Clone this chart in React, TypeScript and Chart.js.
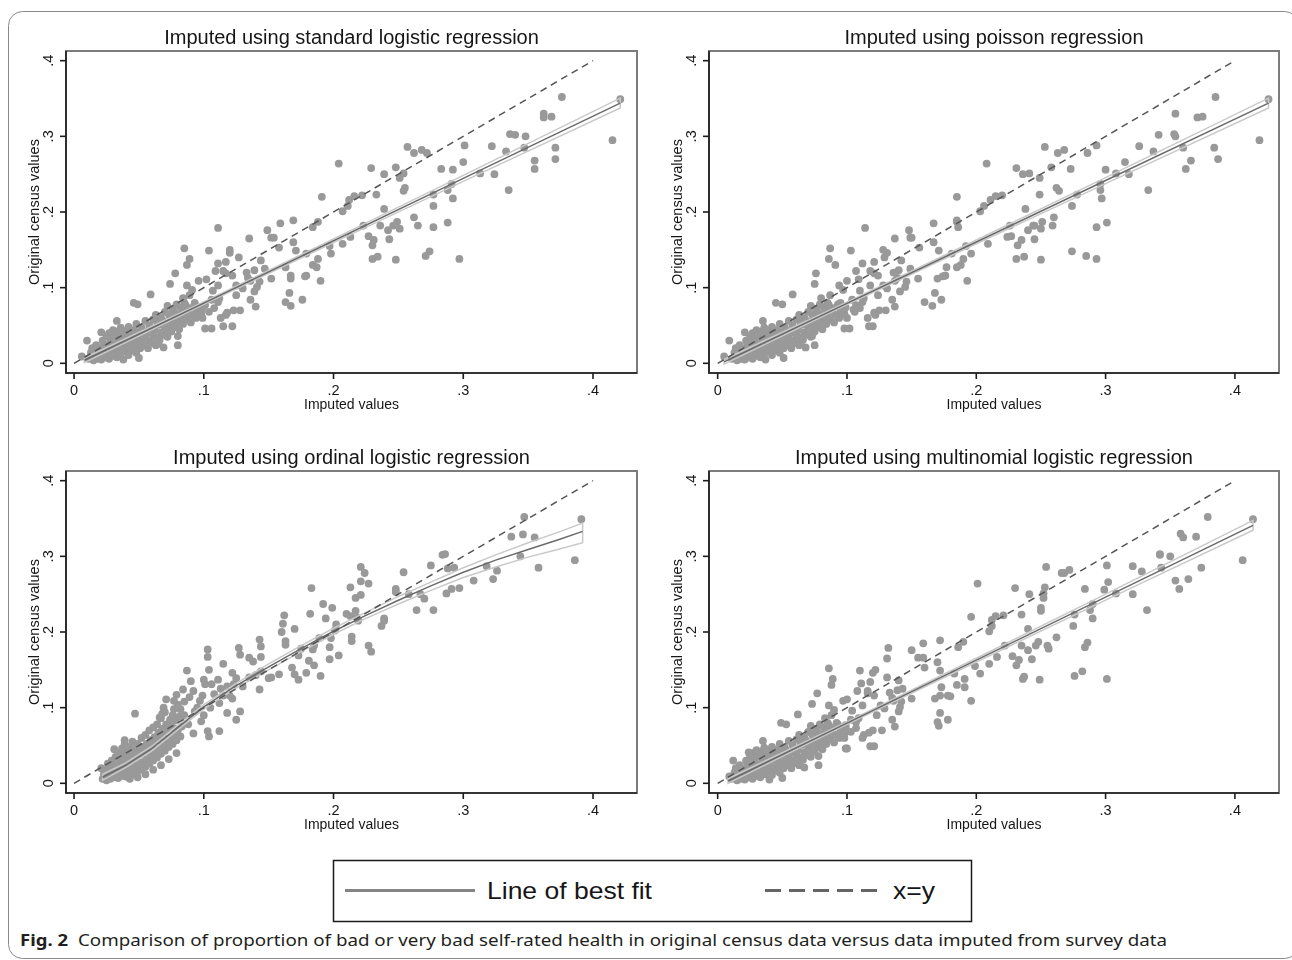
import React, { useEffect, useRef } from "react";
import { Chart, registerables } from "chart.js";

Chart.register(...registerables);

// ---------------- text ----------------
const PANEL_TITLES = [
  "Imputed using standard logistic regression",
  "Imputed using poisson regression",
  "Imputed using ordinal logistic regression",
  "Imputed using multinomial logistic regression",
];
const X_TITLE = "Imputed values";
const Y_TITLE = "Original census values";
const TICK_VALUES = [0, 0.1, 0.2, 0.3, 0.4];
const TICK_LABELS = ["0", ".1", ".2", ".3", ".4"];
const LEGEND_LABELS = ["Line of best fit", "x=y"];
const CAPTION_LABEL = "Fig. 2";
const CAPTION_TEXT =
  "Comparison of proportion of bad or very bad self-rated health in original census data versus data imputed from survey data";

// ---------------- data ----------------
// census values (y) of the scattered areas, shared by the standard, poisson and multinomial panels
const censusY = [
  0.349, 0.352, 0.295, 0.330, 0.325, 0.326, 0.285, 0.270, 0.268, 0.257,
  0.303, 0.302, 0.300, 0.285, 0.280, 0.287, 0.229, 0.250, 0.251, 0.288,
  0.266, 0.256, 0.237, 0.218, 0.229, 0.186, 0.138, 0.257, 0.223, 0.208,
  0.180, 0.148, 0.142, 0.278, 0.282, 0.278, 0.286, 0.193, 0.182, 0.251,
  0.228, 0.232, 0.245, 0.259, 0.178, 0.187, 0.182, 0.176, 0.164, 0.250,
  0.204, 0.182, 0.137, 0.141, 0.138, 0.163, 0.156, 0.258, 0.168, 0.223,
  0.182, 0.222, 0.221, 0.216, 0.167, 0.158, 0.208, 0.201, 0.264, 0.145,
  0.220, 0.155, 0.109, 0.187, 0.138, 0.127, 0.130, 0.180, 0.116, 0.115,
  0.145, 0.084, 0.149, 0.189, 0.160, 0.093, 0.076, 0.081, 0.112, 0.116,
  0.127, 0.185, 0.153, 0.166, 0.176, 0.166, 0.112, 0.125, 0.136, 0.123,
  0.095, 0.075, 0.101, 0.109, 0.084, 0.165, 0.120, 0.099, 0.090, 0.140,
  0.070, 0.116, 0.134, 0.150, 0.146, 0.119, 0.122, 0.179, 0.132, 0.103,
  0.086, 0.081, 0.084, 0.122, 0.096, 0.064, 0.049, 0.049, 0.149, 0.046,
  0.046, 0.111, 0.109, 0.077, 0.071, 0.138, 0.130, 0.152, 0.103, 0.097,
  0.086, 0.119, 0.105, 0.024, 0.036, 0.021, 0.026, 0.091, 0.080, 0.078,
  0.007, 0.005, 0.056, 0.041, 0.030, 0.009,
  0.066, 0.060, 0.068, 0.073, 0.060, 0.067, 0.070, 0.113, 0.108, 0.103, 0.080, 0.090,
];

const stdLogitX = [
  0.421, 0.376, 0.415, 0.362, 0.362, 0.368, 0.371, 0.371, 0.355, 0.355,
  0.336, 0.340, 0.348, 0.347, 0.333, 0.322, 0.335, 0.324, 0.313, 0.301,
  0.300, 0.292, 0.291, 0.292, 0.288, 0.288, 0.297, 0.283, 0.277, 0.277,
  0.277, 0.274, 0.271, 0.272, 0.268, 0.262, 0.257, 0.262, 0.265, 0.254,
  0.254, 0.255, 0.251, 0.248, 0.251, 0.249, 0.246, 0.242, 0.243, 0.239,
  0.239, 0.236, 0.248, 0.234, 0.230, 0.231, 0.230, 0.229, 0.227, 0.233,
  0.223, 0.222, 0.216, 0.212, 0.213, 0.207, 0.211, 0.207, 0.204, 0.198,
  0.191, 0.197, 0.190, 0.188, 0.188, 0.187, 0.184, 0.184, 0.179, 0.178,
  0.179, 0.176, 0.171, 0.169, 0.169, 0.166, 0.167, 0.163, 0.167, 0.167,
  0.163, 0.159, 0.158, 0.152, 0.149, 0.154, 0.152, 0.147, 0.144, 0.139,
  0.139, 0.140, 0.141, 0.136, 0.136, 0.135, 0.133, 0.130, 0.125, 0.127,
  0.123, 0.122, 0.117, 0.120, 0.120, 0.117, 0.115, 0.111, 0.111, 0.111,
  0.112, 0.111, 0.106, 0.109, 0.107, 0.117, 0.115, 0.122, 0.104, 0.106,
  0.101, 0.102, 0.096, 0.101, 0.098, 0.089, 0.087, 0.085, 0.087, 0.091,
  0.084, 0.078, 0.074, 0.080, 0.080, 0.069, 0.065, 0.059, 0.046, 0.049,
  0.050, 0.038, 0.033, 0.021, 0.010, 0.006,
  0.094, 0.099, 0.104, 0.108, 0.113, 0.118, 0.128, 0.134, 0.143, 0.125, 0.093, 0.089,
];

const poissonX = [
  0.426, 0.385, 0.419, 0.354, 0.371, 0.375, 0.384, 0.387, 0.366, 0.362,
  0.353, 0.341, 0.354, 0.360, 0.337, 0.326, 0.333, 0.318, 0.308, 0.293,
  0.315, 0.300, 0.296, 0.297, 0.296, 0.301, 0.293, 0.273, 0.278, 0.274,
  0.293, 0.274, 0.285, 0.286, 0.268, 0.263, 0.253, 0.260, 0.259, 0.241,
  0.264, 0.262, 0.249, 0.258, 0.250, 0.251, 0.245, 0.240, 0.245, 0.236,
  0.238, 0.244, 0.250, 0.237, 0.231, 0.235, 0.232, 0.231, 0.227, 0.249,
  0.226, 0.220, 0.215, 0.211, 0.224, 0.209, 0.206, 0.203, 0.208, 0.196,
  0.185, 0.192, 0.193, 0.185, 0.190, 0.185, 0.188, 0.186, 0.176, 0.174,
  0.181, 0.173, 0.171, 0.185, 0.167, 0.168, 0.166, 0.160, 0.170, 0.176,
  0.177, 0.167, 0.156, 0.149, 0.148, 0.150, 0.155, 0.149, 0.142, 0.140,
  0.141, 0.137, 0.145, 0.137, 0.135, 0.137, 0.136, 0.131, 0.124, 0.129,
  0.125, 0.124, 0.121, 0.128, 0.131, 0.121, 0.118, 0.114, 0.112, 0.118,
  0.113, 0.112, 0.104, 0.107, 0.110, 0.122, 0.117, 0.120, 0.103, 0.098,
  0.102, 0.109, 0.100, 0.107, 0.105, 0.086, 0.091, 0.087, 0.094, 0.097,
  0.080, 0.076, 0.075, 0.075, 0.073, 0.068, 0.064, 0.058, 0.045, 0.050,
  0.051, 0.037, 0.035, 0.021, 0.009, 0.005,
  0.096, 0.100, 0.106, 0.110, 0.116, 0.121, 0.130, 0.139, 0.146, 0.128, 0.095, 0.087,
];

const multinomX = [
  0.414, 0.379, 0.406, 0.358, 0.360, 0.370, 0.374, 0.364, 0.354, 0.357,
  0.342, 0.342, 0.350, 0.343, 0.328, 0.321, 0.332, 0.321, 0.308, 0.301,
  0.302, 0.299, 0.290, 0.290, 0.288, 0.286, 0.301, 0.284, 0.276, 0.275,
  0.284, 0.282, 0.276, 0.268, 0.272, 0.266, 0.254, 0.262, 0.255, 0.252,
  0.250, 0.250, 0.252, 0.253, 0.256, 0.248, 0.246, 0.240, 0.243, 0.241,
  0.240, 0.235, 0.249, 0.237, 0.236, 0.233, 0.231, 0.230, 0.228, 0.235,
  0.222, 0.221, 0.215, 0.212, 0.216, 0.210, 0.212, 0.210, 0.201, 0.203,
  0.196, 0.199, 0.196, 0.190, 0.191, 0.191, 0.185, 0.186, 0.178, 0.180,
  0.183, 0.178, 0.172, 0.172, 0.170, 0.172, 0.171, 0.170, 0.168, 0.172,
  0.173, 0.159, 0.160, 0.155, 0.150, 0.159, 0.150, 0.143, 0.140, 0.139,
  0.140, 0.137, 0.141, 0.136, 0.135, 0.131, 0.133, 0.129, 0.123, 0.131,
  0.120, 0.121, 0.118, 0.122, 0.120, 0.116, 0.116, 0.132, 0.111, 0.112,
  0.109, 0.107, 0.103, 0.108, 0.104, 0.113, 0.118, 0.121, 0.110, 0.099,
  0.100, 0.100, 0.097, 0.099, 0.096, 0.089, 0.088, 0.086, 0.086, 0.090,
  0.083, 0.077, 0.073, 0.078, 0.078, 0.067, 0.063, 0.062, 0.049, 0.053,
  0.050, 0.040, 0.035, 0.024, 0.012, 0.009,
  0.095, 0.098, 0.103, 0.107, 0.112, 0.117, 0.127, 0.135, 0.142, 0.126, 0.092, 0.088,
];

// dense low-value cluster (imputed, census) for the linear-model panels
const lowCluster = [
  [0.011, 0.006], [0.013, 0.014],
  [0.015, 0.004], [0.016, 0.010], [0.014, 0.020],
  [0.018, 0.006], [0.019, 0.015], [0.017, 0.024],
  [0.021, 0.005], [0.022, 0.012], [0.020, 0.019], [0.022, 0.030],
  [0.024, 0.008], [0.025, 0.016], [0.023, 0.025], [0.025, 0.036],
  [0.027, 0.006], [0.028, 0.013], [0.026, 0.021], [0.028, 0.030], [0.027, 0.040],
  [0.030, 0.010], [0.031, 0.018], [0.029, 0.027], [0.031, 0.036], [0.030, 0.044],
  [0.033, 0.008], [0.034, 0.015], [0.032, 0.024], [0.034, 0.033], [0.033, 0.042],
  [0.036, 0.012], [0.037, 0.020], [0.035, 0.029], [0.037, 0.038], [0.036, 0.047],
  [0.039, 0.016], [0.040, 0.025], [0.038, 0.034], [0.040, 0.043],
  [0.042, 0.011], [0.043, 0.020], [0.041, 0.030], [0.043, 0.039], [0.042, 0.048],
  [0.045, 0.017], [0.046, 0.026], [0.044, 0.035], [0.046, 0.044],
  [0.048, 0.014], [0.049, 0.023], [0.047, 0.032], [0.049, 0.041], [0.048, 0.052],
  [0.051, 0.020], [0.052, 0.029], [0.050, 0.038], [0.052, 0.047],
  [0.054, 0.024], [0.055, 0.034], [0.053, 0.043], [0.055, 0.056],
  [0.057, 0.020], [0.058, 0.030], [0.056, 0.040], [0.058, 0.050],
  [0.060, 0.027], [0.061, 0.037], [0.059, 0.046], [0.061, 0.058],
  [0.063, 0.024], [0.064, 0.034], [0.062, 0.044], [0.064, 0.054], [0.063, 0.064],
  [0.066, 0.031], [0.067, 0.041], [0.065, 0.051], [0.067, 0.060],
  [0.069, 0.038], [0.070, 0.048], [0.068, 0.057], [0.070, 0.068],
  [0.072, 0.035], [0.073, 0.045], [0.071, 0.054], [0.073, 0.065], [0.072, 0.076],
  [0.075, 0.042], [0.076, 0.052], [0.074, 0.062], [0.076, 0.072],
  [0.078, 0.048], [0.079, 0.058], [0.077, 0.068], [0.079, 0.078],
  [0.081, 0.045], [0.082, 0.055], [0.080, 0.064], [0.082, 0.074],
  [0.084, 0.052], [0.085, 0.062], [0.083, 0.071], [0.085, 0.080],
  [0.087, 0.058], [0.088, 0.068], [0.086, 0.077],
  [0.090, 0.054], [0.091, 0.064], [0.089, 0.073],
  [0.094, 0.060], [0.095, 0.070], [0.093, 0.078],
  [0.098, 0.066], [0.099, 0.074],
];

// ordinal logistic regression panel (imputed, census)
const ordinalPts = [
  [0.391, 0.349], [0.347, 0.352], [0.337, 0.326], [0.346, 0.329], [0.355, 0.325], [0.344, 0.300], [0.358, 0.285], [0.386, 0.295], [0.318, 0.287], [0.323, 0.270],
  [0.326, 0.281], [0.308, 0.268], [0.284, 0.302], [0.286, 0.303], [0.275, 0.288], [0.288, 0.284], [0.293, 0.285], [0.291, 0.257], [0.297, 0.258], [0.287, 0.251],
  [0.267, 0.250], [0.270, 0.244], [0.264, 0.229], [0.277, 0.229], [0.254, 0.279], [0.258, 0.250], [0.248, 0.257], [0.248, 0.253], [0.239, 0.218], [0.239, 0.215],
  [0.237, 0.208], [0.221, 0.286], [0.224, 0.278], [0.221, 0.267], [0.227, 0.264], [0.213, 0.259], [0.217, 0.245], [0.221, 0.249], [0.217, 0.228], [0.210, 0.224],
  [0.213, 0.221], [0.218, 0.219], [0.219, 0.215], [0.214, 0.194], [0.214, 0.188], [0.227, 0.182], [0.229, 0.174], [0.192, 0.237], [0.199, 0.232], [0.183, 0.258],
  [0.182, 0.224], [0.194, 0.218], [0.202, 0.210], [0.201, 0.202], [0.198, 0.192], [0.197, 0.180], [0.204, 0.169], [0.197, 0.164], [0.190, 0.142], [0.189, 0.192],
  [0.185, 0.182], [0.184, 0.177], [0.185, 0.156], [0.179, 0.146], [0.181, 0.162], [0.175, 0.178], [0.173, 0.169], [0.170, 0.204], [0.173, 0.137], [0.170, 0.144],
  [0.168, 0.153], [0.162, 0.222], [0.161, 0.211], [0.163, 0.188], [0.163, 0.183], [0.160, 0.200], [0.158, 0.144], [0.152, 0.140], [0.150, 0.139], [0.143, 0.190],
  [0.144, 0.181], [0.144, 0.167], [0.143, 0.124], [0.144, 0.148], [0.138, 0.161], [0.135, 0.166], [0.128, 0.170], [0.127, 0.179], [0.125, 0.139], [0.122, 0.146],
  [0.123, 0.131], [0.120, 0.116], [0.122, 0.112], [0.115, 0.158], [0.115, 0.116], [0.128, 0.095], [0.125, 0.084], [0.118, 0.093], [0.112, 0.106], [0.111, 0.137],
  [0.106, 0.131], [0.103, 0.177], [0.103, 0.167], [0.104, 0.150], [0.100, 0.137], [0.101, 0.131], [0.099, 0.116], [0.097, 0.109], [0.098, 0.082], [0.103, 0.069],
  [0.104, 0.062], [0.112, 0.069], [0.092, 0.122], [0.090, 0.135], [0.089, 0.114], [0.087, 0.149], [0.093, 0.095], [0.092, 0.066], [0.085, 0.108], [0.084, 0.124],
  [0.079, 0.117], [0.077, 0.109], [0.076, 0.090], [0.071, 0.111], [0.069, 0.100], [0.068, 0.092], [0.066, 0.087], [0.047, 0.092], [0.039, 0.057],
  [0.085, 0.090], [0.088, 0.078], [0.095, 0.100], [0.100, 0.090], [0.105, 0.100], [0.108, 0.118], [0.113, 0.125],
  [0.118, 0.128], [0.130, 0.128], [0.135, 0.140], [0.140, 0.143], [0.082, 0.098], [0.075, 0.080], [0.078, 0.072],
];

const ordinalCluster = [
  [0.022, 0.006], [0.023, 0.012], [0.021, 0.020],
  [0.025, 0.004], [0.026, 0.010], [0.024, 0.017], [0.026, 0.026],
  [0.028, 0.006], [0.029, 0.013], [0.027, 0.021], [0.029, 0.030],
  [0.031, 0.008], [0.032, 0.016], [0.030, 0.025], [0.032, 0.035], [0.031, 0.045],
  [0.034, 0.007], [0.035, 0.013], [0.033, 0.021], [0.035, 0.030], [0.034, 0.040],
  [0.037, 0.010], [0.038, 0.018], [0.036, 0.027], [0.038, 0.036], [0.037, 0.046],
  [0.040, 0.009], [0.041, 0.015], [0.039, 0.023], [0.041, 0.032], [0.040, 0.042], [0.039, 0.052],
  [0.043, 0.013], [0.044, 0.021], [0.042, 0.030], [0.044, 0.039], [0.043, 0.048],
  [0.046, 0.012], [0.047, 0.019], [0.045, 0.027], [0.047, 0.036], [0.046, 0.045], [0.045, 0.055],
  [0.049, 0.016], [0.050, 0.024], [0.048, 0.033], [0.050, 0.042], [0.049, 0.052],
  [0.052, 0.018], [0.053, 0.028], [0.051, 0.038], [0.053, 0.048], [0.052, 0.060],
  [0.055, 0.022], [0.056, 0.032], [0.054, 0.042], [0.056, 0.052], [0.055, 0.064],
  [0.058, 0.026], [0.059, 0.036], [0.057, 0.046], [0.059, 0.057], [0.058, 0.070],
  [0.061, 0.030], [0.062, 0.040], [0.060, 0.050], [0.062, 0.061], [0.061, 0.074],
  [0.064, 0.034], [0.065, 0.045], [0.063, 0.056], [0.065, 0.067], [0.064, 0.078],
  [0.067, 0.039], [0.068, 0.050], [0.066, 0.061], [0.068, 0.072], [0.067, 0.086],
  [0.070, 0.043], [0.071, 0.055], [0.069, 0.066], [0.071, 0.078], [0.070, 0.094],
  [0.073, 0.048], [0.074, 0.060], [0.072, 0.072], [0.074, 0.084],
  [0.076, 0.052], [0.077, 0.064], [0.075, 0.077], [0.077, 0.098],
  [0.079, 0.057], [0.080, 0.070], [0.078, 0.083], [0.080, 0.104],
  [0.082, 0.062], [0.083, 0.075], [0.081, 0.088],
  [0.043, 0.006], [0.049, 0.008], [0.055, 0.012], [0.061, 0.018], [0.067, 0.024], [0.073, 0.032], [0.079, 0.040],
];

// x = y reference
const identityX = [0, 0.4];
const identityY = [0, 0.4];

// lines of best fit with confidence bounds
const stdFitX = [0.008, 0.1, 0.2, 0.3, 0.421];
const stdFitY = [0.004, 0.0795, 0.162, 0.2445, 0.344];
const stdCiUp = [0.007, 0.081, 0.1645, 0.2485, 0.3505];
const stdCiLo = [0.001, 0.078, 0.1595, 0.2405, 0.3375];

const poisFitX = [0.005, 0.1, 0.2, 0.3, 0.426];
const poisFitY = [0.002, 0.0792, 0.1604, 0.2416, 0.344];
const poisCiUp = [0.005, 0.0807, 0.163, 0.2455, 0.3505];
const poisCiLo = [-0.001, 0.0777, 0.158, 0.2375, 0.3375];

const ordFitX = [0.022, 0.04, 0.06, 0.08, 0.1, 0.125, 0.15, 0.175, 0.2, 0.225, 0.25, 0.275, 0.3, 0.325, 0.35, 0.375, 0.392];
const ordFitY = [0.008, 0.024, 0.046, 0.074, 0.101, 0.129, 0.154, 0.178, 0.201, 0.222, 0.242, 0.261, 0.279, 0.295, 0.309, 0.323, 0.333];
const ordCiUp = [0.012, 0.027, 0.049, 0.077, 0.104, 0.132, 0.158, 0.182, 0.205, 0.226, 0.247, 0.266, 0.285, 0.302, 0.318, 0.333, 0.344];
const ordCiLo = [0.004, 0.021, 0.043, 0.071, 0.098, 0.126, 0.150, 0.174, 0.197, 0.218, 0.237, 0.255, 0.272, 0.286, 0.299, 0.310, 0.318];

const mlogFitX = [0.008, 0.1, 0.2, 0.3, 0.414];
const mlogFitY = [0.003, 0.0796, 0.1628, 0.2461, 0.341];
const mlogCiUp = [0.006, 0.0811, 0.1653, 0.25, 0.3475];
const mlogCiLo = [0.0, 0.0781, 0.1603, 0.2422, 0.3345];

// ---------------- helpers ----------------
type P = { x: number; y: number };
const zip = (xs: number[], ys: number[]): P[] => xs.map((x, i) => ({ x, y: ys[i] }));
const fromPairs = (pairs: number[][]): P[] => pairs.map(([x, y]) => ({ x, y }));
const ciOutline = (xs: number[], up: number[], lo: number[]): P[] => {
  const upper = zip(xs, up);
  const lower = zip(xs, lo).reverse();
  return [...upper, ...lower, upper[0]];
};

const FONT = '"Liberation Sans", Arial, Helvetica, sans-serif';
const INK = "#161616";

const panelFrame = {
  id: "panelFrame",
  afterDraw(chart: any, _args: any, opts: any) {
    const { ctx, chartArea: a, scales } = chart;
    const xs = scales.x;
    const ys = scales.y;
    ctx.save();
    // plot region outline
    ctx.strokeStyle = "#7c7c7c";
    ctx.lineWidth = 2;
    ctx.strokeRect(a.left, a.top, a.right - a.left, a.bottom - a.top);
    // axis lines
    ctx.strokeStyle = "#1c1c1c";
    ctx.lineWidth = 1.6;
    ctx.beginPath();
    ctx.moveTo(a.left, a.top);
    ctx.lineTo(a.left, a.bottom);
    ctx.lineTo(a.right, a.bottom);
    ctx.stroke();
    // ticks and labels
    ctx.fillStyle = INK;
    ctx.font = `14.5px ${FONT}`;
    ctx.textAlign = "center";
    ctx.textBaseline = "alphabetic";
    TICK_VALUES.forEach((v, i) => {
      const px = xs.getPixelForValue(v);
      ctx.beginPath();
      ctx.moveTo(px, a.bottom);
      ctx.lineTo(px, a.bottom + 6);
      ctx.stroke();
      ctx.fillText(TICK_LABELS[i], px, a.bottom + 21.5);
      const py = ys.getPixelForValue(v);
      ctx.beginPath();
      ctx.moveTo(a.left, py);
      ctx.lineTo(a.left - 6, py);
      ctx.stroke();
      ctx.save();
      ctx.translate(a.left - 12.7, py);
      ctx.rotate(-Math.PI / 2);
      ctx.fillText(TICK_LABELS[i], 0, 0);
      ctx.restore();
    });
    // axis titles
    ctx.font = `14px ${FONT}`;
    ctx.fillText(X_TITLE, (a.left + a.right) / 2, a.bottom + 35.5);
    ctx.save();
    ctx.font = `14.5px ${FONT}`;
    ctx.translate(a.left - 27.5, (a.top + a.bottom) / 2);
    ctx.rotate(-Math.PI / 2);
    ctx.fillText(Y_TITLE, 0, 0);
    ctx.restore();
    // panel title
    ctx.font = `20px ${FONT}`;
    ctx.fillText(opts.title, (a.left + a.right) / 2, a.top - 7);
    ctx.restore();
  },
};

type PanelSpec = {
  left: number;
  top: number;
  title: string;
  pts: P[];
  fit: P[];
  ci: P[];
  yAxisWidth: number;
  padRight: number;
  xMin: number;
  xMax: number;
};

const PANELS: PanelSpec[] = [
  {
    left: 0, top: 0, title: PANEL_TITLES[0],
    pts: [...fromPairs(lowCluster), ...zip(stdLogitX, censusY)],
    fit: zip(stdFitX, stdFitY), ci: ciOutline(stdFitX, stdCiUp, stdCiLo),
    yAxisWidth: 66, padRight: 9, xMin: -0.0062, xMax: 0.4339,
  },
  {
    left: 646, top: 0, title: PANEL_TITLES[1],
    pts: [...fromPairs(lowCluster), ...zip(poissonX, censusY)],
    fit: zip(poisFitX, poisFitY), ci: ciOutline(poisFitX, poisCiUp, poisCiLo),
    yAxisWidth: 63, padRight: 13, xMin: -0.0067, xMax: 0.4341,
  },
  {
    left: 0, top: 420, title: PANEL_TITLES[2],
    pts: [...fromPairs(ordinalCluster), ...fromPairs(ordinalPts)],
    fit: zip(ordFitX, ordFitY), ci: ciOutline(ordFitX, ordCiUp, ordCiLo),
    yAxisWidth: 66, padRight: 9, xMin: -0.0062, xMax: 0.4339,
  },
  {
    left: 646, top: 420, title: PANEL_TITLES[3],
    pts: [...fromPairs(lowCluster), ...zip(multinomX, censusY)],
    fit: zip(mlogFitX, mlogFitY), ci: ciOutline(mlogFitX, mlogCiUp, mlogCiLo),
    yAxisWidth: 63, padRight: 13, xMin: -0.0067, xMax: 0.4341,
  },
];

function Panel({ spec }: { spec: PanelSpec }) {
  const ref = useRef<HTMLCanvasElement>(null);
  useEffect(() => {
    const canvas = ref.current;
    if (!canvas) return;
    const chart = new Chart(canvas, {
      type: "scatter",
      data: {
        datasets: [
          {
            data: zip(identityX, identityY),
            showLine: true,
            borderColor: "#555555",
            backgroundColor: "#555555",
            borderWidth: 1.5,
            borderDash: [7, 5],
            pointRadius: 0,
          },
          {
            data: spec.fit,
            showLine: true,
            borderColor: "#6a6a6a",
            backgroundColor: "#6a6a6a",
            borderWidth: 1.5,
            pointRadius: 0,
          },
          {
            data: spec.ci,
            showLine: true,
            borderColor: "#c9c9c9",
            backgroundColor: "#c9c9c9",
            borderWidth: 1.5,
            pointRadius: 0,
          },
          {
            data: spec.pts,
            pointRadius: 3.9,
            pointBackgroundColor: "#999999",
            backgroundColor: "#999999",
            borderColor: "#999999",
            pointBorderWidth: 0,
          },
        ],
      } as any,
      options: {
        animation: false,
        responsive: false,
        devicePixelRatio: 1,
        events: [],
        layout: { padding: { left: 0, top: 51, right: spec.padRight, bottom: 0 } },
        plugins: {
          legend: { display: false },
          tooltip: { enabled: false },
          panelFrame: { title: spec.title },
        } as any,
        scales: {
          x: {
            type: "linear",
            min: spec.xMin,
            max: spec.xMax,
            grid: { display: false },
            border: { display: false },
            ticks: { display: false },
            afterFit: (s: any) => {
              s.height = 47;
            },
          },
          y: {
            type: "linear",
            min: -0.0128,
            max: 0.4128,
            grid: { display: false },
            border: { display: false },
            ticks: { display: false },
            afterFit: (s: any) => {
              s.width = spec.yAxisWidth;
            },
          },
        },
      } as any,
      plugins: [panelFrame],
    });
    return () => chart.destroy();
  }, [spec]);
  return (
    <canvas
      ref={ref}
      width={646}
      height={420}
      style={{ position: "absolute", left: spec.left, top: spec.top, width: 646, height: 420 }}
    />
  );
}

export default function App() {
  return (
    <div style={{ position: "absolute", left: 0, top: 0, width: 1292, height: 960, background: "#fff", overflow: "hidden" }}>
      <svg width={1292} height={960} style={{ position: "absolute", left: 0, top: 0 }}>
        <rect x={8.5} y={11.5} width={1290} height={947} rx={14} ry={14} fill="none" stroke="#8a8a8a" strokeWidth={1} />
        <rect x={333.5} y={860.5} width={638} height={61} fill="none" stroke="#1a1a1a" strokeWidth={1.5} />
        <line x1={345} y1={890.5} x2={475} y2={890.5} stroke="#858585" strokeWidth={3} />
        <text x={487} y={899} fontFamily={FONT} fontSize={24} fill={INK} textLength={165} lengthAdjust="spacingAndGlyphs">
          {LEGEND_LABELS[0]}
        </text>
        <line x1={765} y1={890.5} x2={885} y2={890.5} stroke="#666666" strokeWidth={3} strokeDasharray="16 8" />
        <text x={893} y={899} fontFamily={FONT} fontSize={24} fill={INK} textLength={42} lengthAdjust="spacingAndGlyphs">
          {LEGEND_LABELS[1]}
        </text>
        <text x={20} y={946} fontFamily='"Noto Sans", "Open Sans", sans-serif' fontWeight="bold" fontSize={16.5} fill="#231f20" textLength={48} lengthAdjust="spacingAndGlyphs">
          {CAPTION_LABEL}
        </text>
        <text x={78} y={946} fontFamily='"Noto Sans", "Open Sans", sans-serif' fontSize={16.5} fill="#231f20" textLength={1089} lengthAdjust="spacingAndGlyphs">
          {CAPTION_TEXT}
        </text>
      </svg>
      {PANELS.map((p, i) => (
        <Panel key={i} spec={p} />
      ))}
    </div>
  );
}
